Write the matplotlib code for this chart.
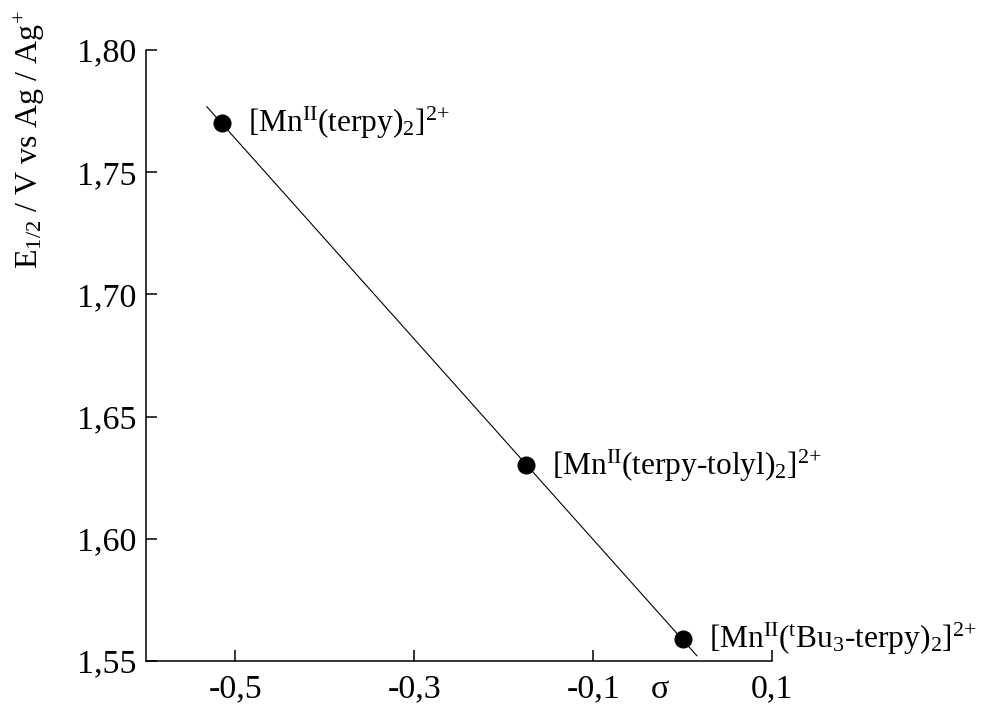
import matplotlib
matplotlib.use("Agg")
import matplotlib.pyplot as plt
from matplotlib.ticker import FuncFormatter
import numpy as np

plt.rcParams['font.family'] = ['Liberation Serif', 'DejaVu Serif']
plt.rcParams['mathtext.fontset'] = 'custom'
plt.rcParams['mathtext.rm'] = 'Liberation Serif'
plt.rcParams['mathtext.it'] = 'Liberation Serif:italic'
plt.rcParams['mathtext.bf'] = 'Liberation Serif:bold'

sigma = [-0.515, -0.175, 0.0]
e_half = [1.770, 1.630, 1.559]
labels = [r'[Mn$^{\mathrm{II}}$(terpy)$_{\mathrm{2}}$]$^{\text{2+}}$',
          r'[Mn$^{\mathrm{II}}$(terpy-tolyl)$_{\mathrm{2}}$]$^{\text{2+}}$',
          r'[Mn$^{\mathrm{II}}$($^{\mathrm{t}}$Bu$_{\mathrm{3}}$-terpy)$_{\mathrm{2}}$]$^{\text{2+}}$']
xticks = [-0.5, -0.3, -0.1, 0.1]
yticks = [1.55, 1.60, 1.65, 1.70, 1.75, 1.80]
fit_range = [-0.532, 0.016]

fig = plt.figure(figsize=(9.81, 7.04), dpi=100)
ax = fig.add_axes([146/981, 43/704, (772-146)/981, (661-50)/704])

m, b = np.polyfit(sigma, e_half, 1)
xf = np.array(fit_range)
ax.plot(xf, m*xf + b, color='black', lw=0.8)
ax.plot(sigma, e_half, 'o', color='black', ms=12)

for x, y, t in zip(sigma, e_half, labels):
    ax.annotate(t, (x, y), xytext=(19, 0), textcoords='offset points',
                ha='left', va='center', fontsize=22.6, annotation_clip=False)

ax.set_xlim(-0.6, 0.1)
ax.set_ylim(1.55, 1.80)
ax.set_xticks(xticks)
ax.set_yticks(yticks)
ax.xaxis.set_major_formatter(FuncFormatter(lambda v, p: ('%.1f' % v).replace('.', ',')))
ax.yaxis.set_major_formatter(FuncFormatter(lambda v, p: ('%.2f' % v).replace('.', ',')))
ax.tick_params(direction='in', length=8, width=1.1, labelsize=24.5)
ax.tick_params(axis='x', pad=9)
ax.tick_params(axis='y', pad=7)
for s in ['top', 'right']:
    ax.spines[s].set_visible(False)
for s in ['left', 'bottom']:
    ax.spines[s].set_linewidth(1.1)

fig.text(30/981, (704-140)/704, r'E$_{\mathrm{1/2}}$ / V vs Ag / Ag$^{\text{+}}$',
         rotation=90, ha='center', va='center', fontsize=23)
fig.text(660/981, (704-690)/704, 'σ', ha='center', va='center', fontsize=24.5)

fig.savefig('out.png', dpi=100)
